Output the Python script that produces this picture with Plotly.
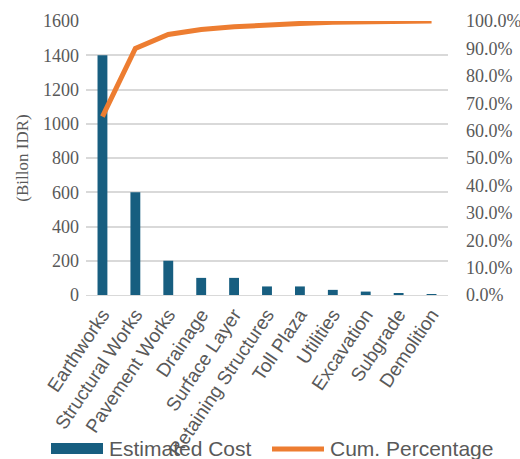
import plotly.graph_objects as go

# Cost breakdown by work item
categories = ["Earthworks", "Structural Works", "Pavement Works", "Drainage",
              "Surface Layer", "Retaining Structures", "Toll Plaza", "Utilities",
              "Excavation", "Subgrade", "Demolition"]
estimated_cost = [1400, 600, 200, 100, 100, 50, 50, 30, 20, 8, 2]
cum_percentage = [0.651, 0.90, 0.951, 0.969, 0.979, 0.986, 0.991, 0.995, 0.997, 0.999, 1.0]

left_ticks = [0, 200, 400, 600, 800, 1000, 1200, 1400, 1600]
right_ticks = [i / 10 for i in range(11)]

serif = "Liberation Serif, Times New Roman, serif"
sans = "Liberation Sans, Arial, sans-serif"
grey = "#595959"
bar_color = "#175E80"
line_color = "#ED7D31"

# plot area in pixels (used to place the legend keys under the chart)
W, H = 520, 459
L, R, T, B = 86, 72, 21, 164
pw, ph = W - L - R, H - T - B


def px_x(v):
    return (v - L) / pw


def px_y(v):
    return (H - B - v) / ph


fig = go.Figure()
fig.add_trace(go.Bar(
    x=categories, y=estimated_cost, name="Estimated Cost",
    marker=dict(color=bar_color, line=dict(width=0)), width=0.3,
))
fig.add_trace(go.Scatter(
    x=categories, y=cum_percentage, name="Cum. Percentage", yaxis="y2",
    mode="lines", line=dict(color=line_color, width=5),
))

# Legend drawn beneath the axis labels with wide keys
fig.add_shape(type="rect", xref="paper", yref="paper",
              x0=px_x(51), x1=px_x(103), y0=px_y(454), y1=px_y(443),
              fillcolor=bar_color, line=dict(width=0), layer="above")
fig.add_shape(type="line", xref="paper", yref="paper",
              x0=px_x(272), x1=px_x(324), y0=px_y(449), y1=px_y(449),
              line=dict(color=line_color, width=5), layer="above")
fig.add_annotation(text="Estimated Cost", xref="paper", yref="paper",
                   x=px_x(107), y=px_y(448), xanchor="left", yanchor="middle",
                   showarrow=False, font=dict(family=sans, size=21, color=grey))
fig.add_annotation(text="Cum. Percentage", xref="paper", yref="paper",
                   x=px_x(328), y=px_y(448), xanchor="left", yanchor="middle",
                   showarrow=False, font=dict(family=sans, size=21, color=grey))

fig.update_layout(
    width=W, height=H,
    margin=dict(l=L, r=R, t=T, b=B),
    plot_bgcolor="white", paper_bgcolor="white",
    showlegend=False,
    xaxis=dict(
        tickangle=-56, tickfont=dict(family=sans, size=19, color=grey),
        showgrid=False, showline=True, linecolor="#d9d9d9", linewidth=1,
        ticks="", automargin=False,
    ),
    yaxis=dict(
        range=[0, 1600], tickvals=left_ticks,
        tickfont=dict(family=serif, size=18, color=grey),
        showgrid=True, gridcolor="#d9d9d9", gridwidth=1.5, zeroline=False,
        title=dict(text="(Billon IDR)", font=dict(family=serif, size=17, color=grey), standoff=10),
        automargin=False, ticklabelstandoff=6,
    ),
    yaxis2=dict(
        range=[0, 1.0], tickvals=right_ticks, tickformat=".1%",
        overlaying="y", side="right",
        tickfont=dict(family=serif, size=18, color=grey),
        showgrid=False, zeroline=False, automargin=False, ticklabelstandoff=17,
    ),
)

fig.write_html("out.html")
